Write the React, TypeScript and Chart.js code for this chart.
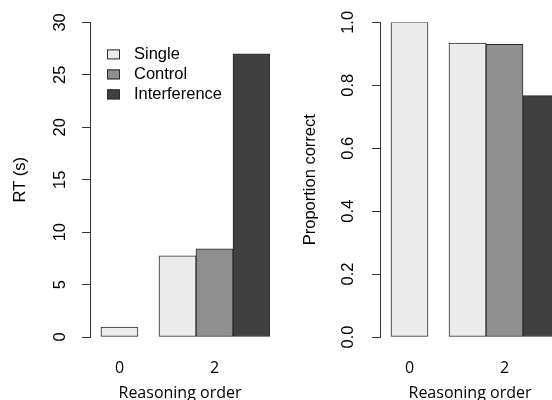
import React, { useEffect, useRef } from "react";
import { Chart, registerables } from "chart.js";

Chart.register(...registerables);

// ---- data ----
const orders = ["0", "2"];
const seriesNames = ["Single", "Control", "Interference"];
const seriesColors = ["#EBEBEB", "#8F8F8F", "#404040"];

const rtSingle: (number | null)[] = [0.95, 7.75];
const rtControl: (number | null)[] = [null, 8.4];
const rtInterference: (number | null)[] = [null, 27.0];

const pcSingle: (number | null)[] = [1.0, 0.934];
const pcControl: (number | null)[] = [null, 0.93];
const pcInterference: (number | null)[] = [null, 0.767];

const rtTicks = [0, 5, 10, 15, 20, 25, 30];
const rtTickLabels = ["0", "5", "10", "15", "20", "25", "30"];
const pcTicks = [0, 0.2, 0.4, 0.6, 0.8, 1.0];
const pcTickLabels = ["0.0", "0.2", "0.4", "0.6", "0.8", "1.0"];

// ---- layout constants (in bar-width units) ----
const GROUP_GAP = 0.568;
const X_PAD_LEFT = 0.297;

const ARIAL = "'Liberation Sans', Arial, Helvetica, sans-serif";
const OPEN = "'Open Sans', 'Noto Sans', sans-serif";
const INK = "#2a2a2a";

function layoutBars(series: (number | null)[][]) {
  const points = series.map(() => [] as { x: number; y: number }[]);
  const centers: number[] = [];
  let cursor = 0;
  orders.forEach((_, g) => {
    const start = cursor;
    let k = 0;
    series.forEach((s, si) => {
      const v = s[g];
      if (v === null || v === undefined) return;
      points[si].push({ x: start + k + 0.5, y: v });
      k++;
    });
    centers.push(start + k / 2);
    cursor = start + k + GROUP_GAP;
  });
  return { points, centers, end: cursor - GROUP_GAP };
}

const legendPlugin = {
  id: "panelLegend",
  afterDraw(chart: any) {
    const { ctx, chartArea } = chart;
    ctx.save();
    ctx.font = `16.5px ${ARIAL}`;
    ctx.textBaseline = "middle";
    ctx.textAlign = "left";
    chart.data.datasets.forEach((ds: any, i: number) => {
      const cy = chartArea.top + 32 + i * 20;
      const bx = chartArea.left + 17;
      ctx.fillStyle = ds.backgroundColor;
      ctx.fillRect(bx, cy - 5, 13, 10);
      ctx.strokeStyle = INK;
      ctx.lineWidth = 1;
      ctx.strokeRect(bx + 0.5, cy - 4.5, 12, 9);
      ctx.fillStyle = "#000";
      ctx.fillText(ds.label, chartArea.left + 44, cy);
    });
    ctx.restore();
  },
};

function makeConfig(
  series: (number | null)[][],
  yMax: number,
  ticks: number[],
  tickLabels: string[],
  yTitle: string,
  showLegend: boolean
): any {
  const { points, centers, end } = layoutBars(series);
  return {
    type: "bar",
    data: {
      datasets: seriesNames.map((name, i) => ({
        label: name,
        data: points[i],
        backgroundColor: seriesColors[i],
        borderColor: INK,
        borderWidth: 1,
        borderSkipped: false,
        grouped: false,
        barPercentage: 1,
        categoryPercentage: 1,
      })),
    },
    options: {
      responsive: false,
      animation: false,
      devicePixelRatio: 1,
      layout: { padding: { top: 20, left: 0, right: 0, bottom: 0 } },
      plugins: { legend: { display: false }, tooltip: { enabled: false } },
      scales: {
        x: {
          type: "linear",
          offset: false,
          min: -X_PAD_LEFT,
          max: end,
          grid: { display: false, offset: false, drawTicks: false, tickLength: 0 },
          border: { display: false },
          afterBuildTicks: (s: any) => {
            s.ticks = centers.map((v) => ({ value: v }));
          },
          afterFit: (s: any) => {
            s.height = 63;
          },
          ticks: {
            autoSkip: false,
            maxRotation: 0,
            minRotation: 0,
            padding: 22,
            color: "#000",
            font: { family: OPEN, size: 16 },
            callback: (_v: any, i: number) => orders[i],
          },
          title: {
            display: true,
            text: "Reasoning order",
            color: "#000",
            font: { family: OPEN, size: 16, lineHeight: 1 },
            padding: { top: 0, bottom: -1 },
          },
        },
        y: {
          type: "linear",
          min: 0,
          max: yMax,
          afterBuildTicks: (s: any) => {
            s.ticks = ticks.map((v) => ({ value: v }));
          },
          afterFit: (s: any) => {
            s.width = 90;
          },
          grid: {
            display: true,
            drawOnChartArea: false,
            drawTicks: true,
            tickLength: 8,
            color: "#333",
            lineWidth: 1,
          },
          border: { display: true, color: "#333", width: 1 },
          ticks: {
            minRotation: 90,
            maxRotation: 90,
            crossAlign: "center",
            padding: 12.5,
            color: "#000",
            font: { family: ARIAL, size: 16.5 },
            callback: (_v: any, i: number) => tickLabels[i],
          },
          title: {
            display: true,
            text: yTitle,
            color: "#000",
            font: { family: ARIAL, size: 16.5 },
            padding: { top: 11, bottom: 0 },
          },
        },
      },
    },
    plugins: showLegend ? [legendPlugin] : [],
  };
}

function Panel(props: { config: any; left: number }) {
  const ref = useRef<HTMLCanvasElement | null>(null);
  useEffect(() => {
    if (!ref.current) return;
    const chart = new Chart(ref.current, props.config);
    return () => chart.destroy();
  }, []);
  return (
    <canvas
      ref={ref}
      width={270}
      height={400}
      style={{ position: "absolute", left: props.left, top: 0, width: 270, height: 400, display: "block" }}
    />
  );
}

export default function App() {
  const leftConfig = makeConfig([rtSingle, rtControl, rtInterference], 30, rtTicks, rtTickLabels, "RT (s)", true);
  const rightConfig = makeConfig(
    [pcSingle, pcControl, pcInterference],
    1,
    pcTicks,
    pcTickLabels,
    "Proportion correct",
    false
  );
  return (
    <div
      style={{
        position: "fixed",
        left: 0,
        top: 0,
        width: 552,
        height: 400,
        overflow: "hidden",
        background: "#fff",
      }}
    >
      <Panel config={leftConfig} left={0} />
      <Panel config={rightConfig} left={290} />
    </div>
  );
}
